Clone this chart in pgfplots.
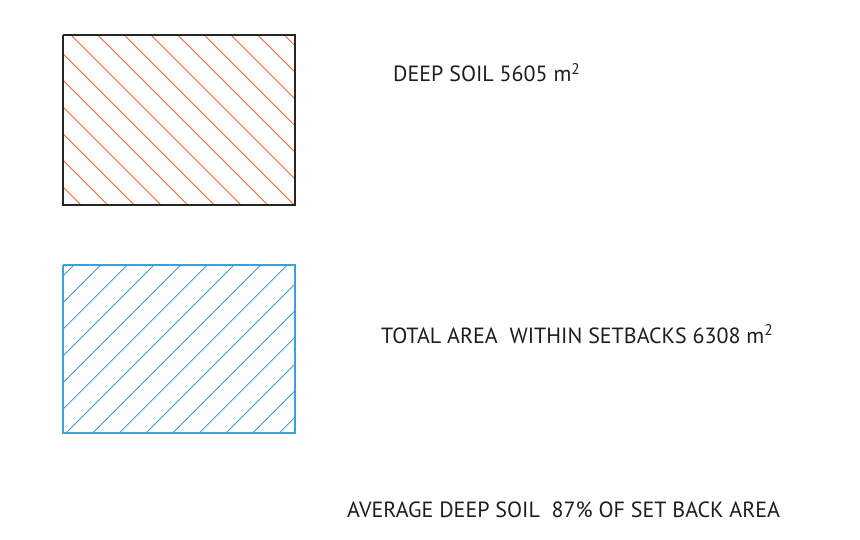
\documentclass[border=0pt]{standalone}
\usepackage{pgfplots}
\pgfplotsset{compat=1.18}
\usepackage{pgfplotstable}
\usepackage{fontspec}
\setmainfont{PT Sans}

\definecolor{soilorange}{RGB}{242,104,44}
\definecolor{areablue}{RGB}{60,160,222}
\definecolor{txt}{RGB}{30,28,28}

% hatch segments in pixel units (y downwards), nan rows split the segments
\pgfplotstableread[row sep=\\]{
x y \\
63 187 \\ 81 205 \\ nan nan \\
63 160.33 \\ 107.67 205 \\ nan nan \\
63 133.67 \\ 134.33 205 \\ nan nan \\
63 107 \\ 161 205 \\ nan nan \\
63 80.33 \\ 187.67 205 \\ nan nan \\
63 53.67 \\ 214.33 205 \\ nan nan \\
71 35 \\ 241 205 \\ nan nan \\
97.67 35 \\ 267.67 205 \\ nan nan \\
124.33 35 \\ 294.33 205 \\ nan nan \\
151 35 \\ 295 179 \\ nan nan \\
177.67 35 \\ 295 152.33 \\ nan nan \\
204.33 35 \\ 295 125.67 \\ nan nan \\
231 35 \\ 295 99 \\ nan nan \\
257.67 35 \\ 295 72.33 \\ nan nan \\
284.33 35 \\ 295 45.67 \\
}\soilhatch

\pgfplotstableread[row sep=\\]{
x y \\
63 276 \\ 74 265 \\ nan nan \\
63 302.67 \\ 100.67 265 \\ nan nan \\
63 329.33 \\ 127.33 265 \\ nan nan \\
63 356 \\ 154 265 \\ nan nan \\
63 382.67 \\ 180.67 265 \\ nan nan \\
63 409.33 \\ 207.33 265 \\ nan nan \\
66 433 \\ 234 265 \\ nan nan \\
92.67 433 \\ 260.67 265 \\ nan nan \\
119.33 433 \\ 287.33 265 \\ nan nan \\
146 433 \\ 295 284 \\ nan nan \\
172.67 433 \\ 295 310.67 \\ nan nan \\
199.33 433 \\ 295 337.33 \\ nan nan \\
226 433 \\ 295 364 \\ nan nan \\
252.67 433 \\ 295 390.67 \\ nan nan \\
279.33 433 \\ 295 417.33 \\
}\areahatch

\begin{document}
\begin{tikzpicture}
  \begin{axis}[
      width=860pt, height=540pt,
      scale only axis,
      xmin=0, xmax=860,
      ymin=0, ymax=540,
      y dir=reverse,
      hide axis,
      clip=false,
      unbounded coords=jump,
    ]
    % keeps the whole canvas in the bounding box
    \addplot[draw=none] coordinates {(0,0) (860,540)};

    \addplot[soilorange, line width=0.9pt] table[x=x, y=y] {\soilhatch};
    \addplot[black!85, line width=1.2pt] coordinates {
      (63,35) (295,35) (295,205) (63,205) (63,35)
    };

    \addplot[areablue, line width=0.9pt] table[x=x, y=y] {\areahatch};
    \addplot[areablue, line width=1.2pt] coordinates {
      (63,265) (295,265) (295,433) (63,433) (63,265)
    };

    \node[anchor=base west, inner sep=0pt, font=\fontsize{22}{26}\selectfont, text=txt]
      at (axis cs:393,82) {DEEP SOIL 5605 m\textsuperscript{2}};
    \node[anchor=base west, inner sep=0pt, font=\fontsize{22}{26}\selectfont, text=txt]
      at (axis cs:381,343) {TOTAL AREA \ WITHIN SETBACKS 6308 m\textsuperscript{2}};
    \node[anchor=base west, inner sep=0pt, font=\fontsize{22}{26}\selectfont, text=txt]
      at (axis cs:347,517) {AVERAGE DEEP SOIL \ 87\% OF SET BACK AREA};
  \end{axis}
\end{tikzpicture}
\end{document}
